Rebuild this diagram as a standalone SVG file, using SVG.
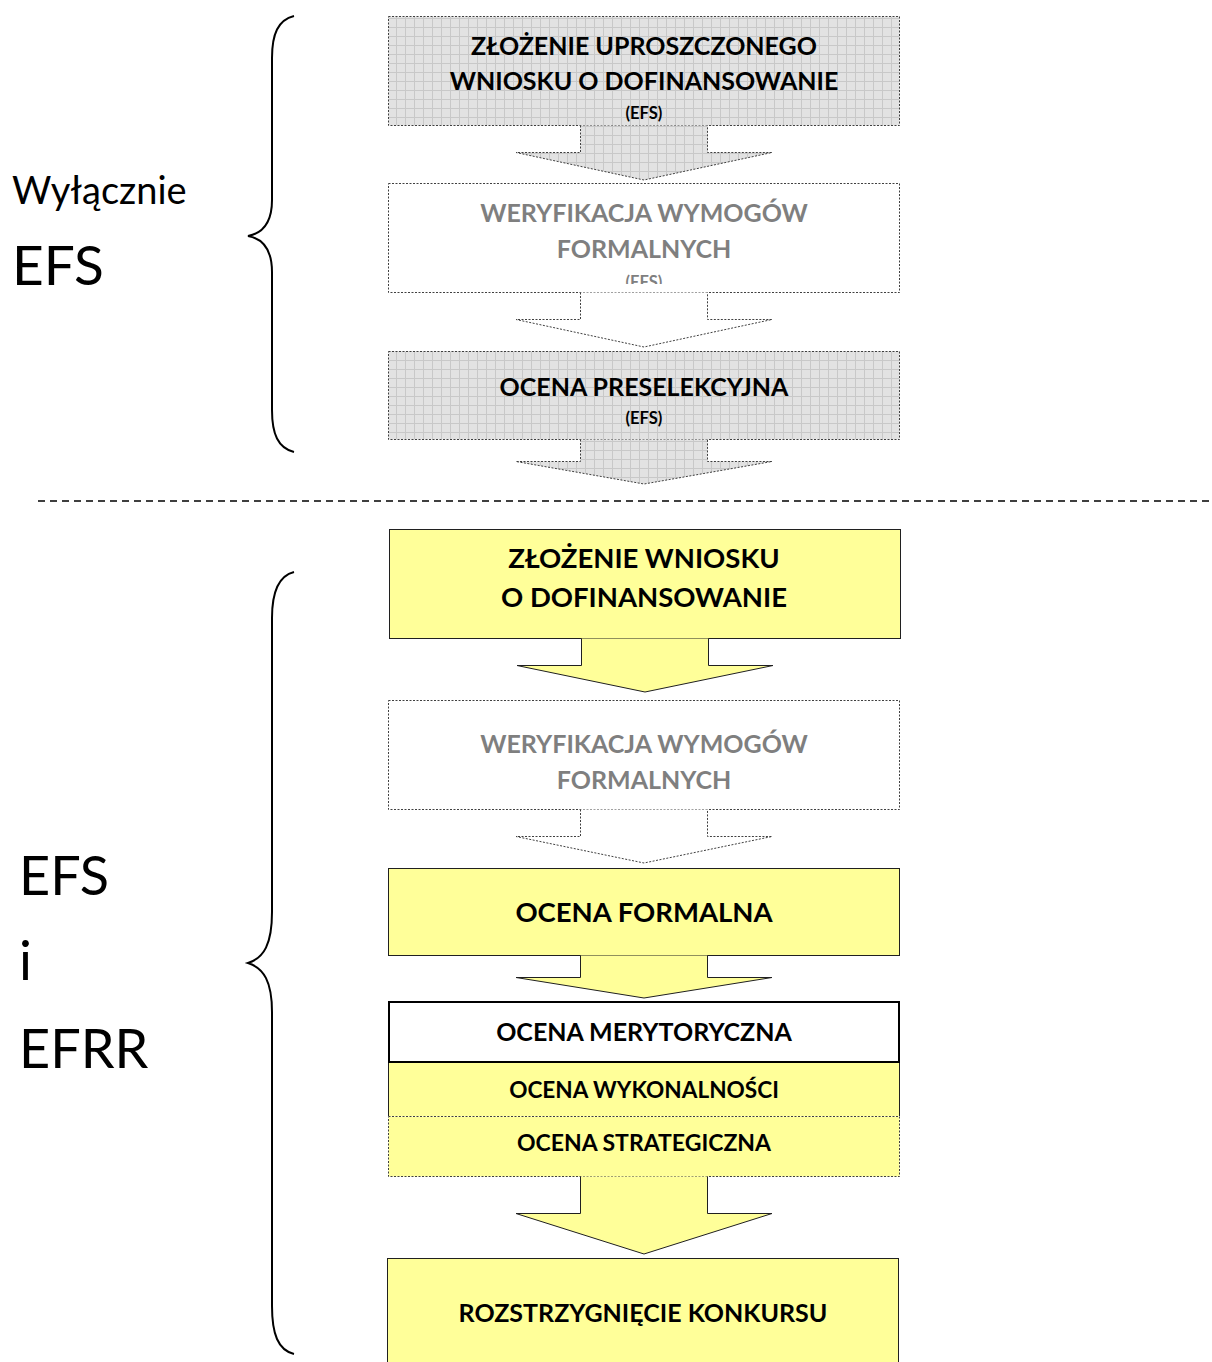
<svg xmlns="http://www.w3.org/2000/svg" width="1212" height="1362" viewBox="0 0 1212 1362">
<defs>
<pattern id="grid" width="9" height="9" patternUnits="userSpaceOnUse">
<rect width="9" height="9" fill="#e2e2e2"/>
<path d="M0 0.5H9M0.5 0V9" stroke="#c8c8c8" stroke-width="1" fill="none"/>
</pattern>
<clipPath id="c2"><rect x="388" y="183" width="512" height="101"/></clipPath>
<clipPath id="c5"><rect x="388" y="700" width="512" height="91"/></clipPath>
<style>
.t{font-family:Lato,"Liberation Sans",sans-serif;font-weight:bold;text-anchor:middle;fill:#000}
.g{fill:#7f7f7f}
.dot{stroke:#404040;stroke-width:1;stroke-dasharray:2 1.5}
.sol{stroke:#202020;stroke-width:1}
.gray{fill:url(#grid)}
.wh{fill:#fff}
.yel{fill:#ffff99}
.lab{font-family:Lato,"Liberation Sans",sans-serif;fill:#000}
.br{fill:none;stroke:#000;stroke-width:2}
</style>
</defs>
<rect width="1212" height="1362" fill="#fff"/>

<g id="labels">
<text class="lab" x="12" y="204" font-size="38">Wyłącznie</text>
<text class="lab" x="12" y="285" font-size="55">EFS</text>
<text class="lab" x="19" y="895" font-size="54">EFS</text>
<text class="lab" x="19" y="980" font-size="54">i</text>
<text class="lab" x="19" y="1068" font-size="54">EFRR</text>
</g>

<g id="braces">
<path class="br" d="M294 16 C278 20 272 34 272 58 V200 C272 222 264 233 248 236 C264 239 272 250 272 272 V410 C272 434 278 448 294 452"/>
<path class="br" d="M294 572 C278 576 272 592 272 618 V912 C272 944 264 958 248 963 C264 968 272 982 272 1012 V1306 C272 1334 278 1350 294 1354"/>
</g>

<g id="separator">
<line x1="38" y1="501" x2="1210" y2="501" stroke="#000" stroke-width="1.3" stroke-dasharray="7 5"/>
</g>

<g id="n1">
<rect class="gray dot" x="388.5" y="16.5" width="511" height="109"/>
<text class="t" x="644" y="55" font-size="25">ZŁOŻENIE UPROSZCZONEGO</text>
<text class="t" x="644" y="90" font-size="25">WNIOSKU O DOFINANSOWANIE</text>
<text class="t" x="644" y="119" font-size="16.5">(EFS)</text>
</g>

<g id="n2">
<rect class="wh dot" x="388.5" y="183.5" width="511" height="109"/>
<g clip-path="url(#c2)">
<text class="t g" x="644" y="222" font-size="25">WERYFIKACJA WYMOGÓW</text>
<text class="t g" x="644" y="258" font-size="25">FORMALNYCH</text>
<text class="t g" x="644" y="288" font-size="16.5">(EFS)</text>
</g>
</g>

<g id="n3">
<rect class="gray dot" x="388.5" y="351.5" width="511" height="88"/>
<text class="t" x="644" y="396" font-size="25">OCENA PRESELEKCYJNA</text>
<text class="t" x="644" y="424" font-size="16.5">(EFS)</text>
</g>

<g id="n4">
<rect class="yel sol" x="389.5" y="529.5" width="511" height="109"/>
<text class="t" x="644" y="568" font-size="27.5">ZŁOŻENIE WNIOSKU</text>
<text class="t" x="644" y="607" font-size="27.5">O DOFINANSOWANIE</text>
</g>

<g id="n5">
<rect class="wh dot" x="388.5" y="700.5" width="511" height="109"/>
<g clip-path="url(#c5)">
<text class="t g" x="644" y="753" font-size="25">WERYFIKACJA WYMOGÓW</text>
<text class="t g" x="644" y="789" font-size="25">FORMALNYCH</text>
</g>
</g>

<g id="n6">
<rect class="yel sol" x="388.5" y="868.5" width="511" height="87"/>
<text class="t" x="644" y="922" font-size="27.5">OCENA FORMALNA</text>
</g>

<g id="n8">
<rect class="yel" x="388" y="1062" width="512" height="54"/>
<path class="sol" d="M388.5 1062 V1116 M899.5 1062 V1116" fill="none"/>
<text class="t" x="644" y="1098" font-size="22.6">OCENA WYKONALNOŚCI</text>
</g>

<g id="n9">
<rect class="yel dot" x="388.5" y="1116.5" width="511" height="60"/>
<text class="t" x="644" y="1151" font-size="23">OCENA STRATEGICZNA</text>
</g>

<g id="n7">
<rect fill="#fff" stroke="#000" stroke-width="2" x="389" y="1002" width="510" height="60"/>
<text class="t" x="644" y="1041" font-size="25">OCENA MERYTORYCZNA</text>
</g>

<g id="n10">
<rect class="yel sol" x="387.5" y="1258.5" width="511" height="110"/>
<text class="t" x="643" y="1322" font-size="25">ROZSTRZYGNIĘCIE KONKURSU</text>
</g>

<g id="connectors">
<path class="gray dot" d="M580.5 125.5 V152.5 H516 L644 180 L772 152.5 H707.5 V125.5"/>
<path class="wh dot" d="M580.5 292.5 V319.5 H516 L644 347 L772 319.5 H707.5 V292.5"/>
<path class="gray dot" d="M580.5 439.5 V461.5 H516 L644 484 L772 461.5 H707.5 V439.5"/>
<path class="yel sol" d="M581.5 638.5 V665.5 H517 L645 692 L773 665.5 H708.5 V638.5"/>
<path class="wh dot" d="M580.5 809.5 V836.5 H516 L644 863 L772 836.5 H707.5 V809.5"/>
<path class="yel sol" d="M580.5 955.5 V977.5 H516 L644 998 L772 977.5 H707.5 V955.5"/>
<path class="yel sol" d="M580.5 1176.5 V1213.5 H516 L644 1254 L772 1213.5 H707.5 V1176.5"/>
</g>
</svg>
